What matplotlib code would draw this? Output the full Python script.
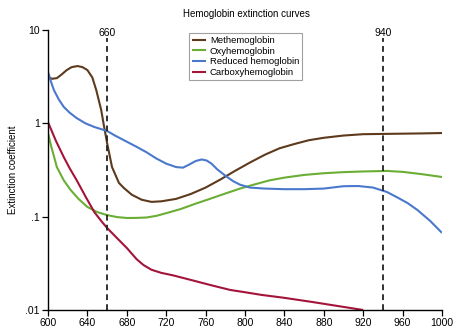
import numpy as np
import matplotlib
matplotlib.use("Agg")
import matplotlib.pyplot as plt

plt.rcParams['font.family'] = ['Liberation Sans', 'DejaVu Sans']

# values (wavelength nm, extinction coefficient)
met_x = [600, 604, 609, 614, 619, 624, 630, 635, 640, 645, 649, 654, 657, 660, 665, 672, 677, 685,
         695, 705, 715, 730, 745, 760, 775, 790, 805, 820, 835, 850, 865, 880, 900, 920, 940, 960, 980, 1000]
met_y = [3.13, 3.0, 3.05, 3.35, 3.72, 4.0, 4.11, 4.0, 3.72, 3.1, 2.27, 1.39, 0.914, 0.615, 0.34, 0.23,
         0.203, 0.172, 0.152, 0.144, 0.146, 0.155, 0.175, 0.205, 0.25, 0.31, 0.38, 0.46, 0.54, 0.6,
         0.66, 0.7, 0.74, 0.765, 0.77, 0.775, 0.78, 0.787]

oxy_x = [600, 603, 609, 616, 623, 631, 640, 650, 660, 670, 680, 690, 700, 710, 720, 735, 750, 765,
         780, 795, 810, 825, 840, 860, 880, 900, 920, 944, 960, 980, 1000]
oxy_y = [0.787, 0.58, 0.34, 0.245, 0.193, 0.155, 0.127, 0.112, 0.104, 0.099, 0.0968, 0.097, 0.098,
         0.102, 0.109, 0.121, 0.138, 0.156, 0.177, 0.2, 0.222, 0.245, 0.262, 0.28, 0.292, 0.3, 0.305,
         0.309, 0.302, 0.285, 0.266]

red_x = [600, 603, 606, 611, 616, 622, 629, 638, 647, 660, 668, 677, 690, 700, 710, 720, 730, 737,
         743, 750, 756, 761, 766, 772, 780, 788, 795, 805, 820, 840, 860, 880, 900, 915, 930, 944,
         955, 965, 975, 988, 1000]
red_y = [3.55, 2.8, 2.27, 1.8, 1.5, 1.3, 1.14, 1.0, 0.914, 0.828, 0.74, 0.66, 0.56, 0.49, 0.42, 0.37,
         0.34, 0.335, 0.36, 0.395, 0.41, 0.4, 0.37, 0.32, 0.275, 0.24, 0.22, 0.205, 0.2, 0.197, 0.197,
         0.2, 0.212, 0.213, 0.205, 0.184, 0.16, 0.14, 0.118, 0.09, 0.067]

carb_x = [600, 608, 616, 622, 629, 638, 647, 654, 660, 669, 680, 690, 697, 705, 715, 727, 745, 765,
          785, 800, 817, 840, 868, 895, 920]
carb_y = [1.03, 0.65, 0.435, 0.33, 0.247, 0.165, 0.112, 0.09, 0.0757, 0.0605, 0.0462, 0.035, 0.0303,
          0.027, 0.025, 0.0235, 0.021, 0.0185, 0.0164, 0.0155, 0.0145, 0.0135, 0.0122, 0.011, 0.01]

labels = ["Methemoglobin", "Oxyhemoglobin", "Reduced hemoglobin", "Carboxyhemoglobin"]
colors = ["#5e3a1c", "#6aae35", "#4a78cc", "#a3143a"]

marks = [660, 940]

fig = plt.figure(figsize=(4.59, 3.35), dpi=100)
ax = fig.add_axes([48/459, 1-310/335, 394/459, 280/335])

series = [(met_x, met_y), (oxy_x, oxy_y), (red_x, red_y), (carb_x, carb_y)]
for (x, y), lab, c in zip(series, labels, colors):
    ax.plot(x, y, color=c, lw=1.5, label=lab, solid_capstyle='butt', solid_joinstyle='round')

for m in marks:
    ax.plot([m, m], [0.01, 8.2], color='#222222', lw=1.3, ls=(0, (3.2, 2.3)))
    ax.text(m, 9.4, str(m), ha='center', va='center', fontsize=7.5)

ax.set_yscale('log')
ax.set_xlim(600, 1000)
ax.set_ylim(0.01, 10)
ax.set_xticks(np.arange(600, 1001, 40))
ax.set_yticks([0.01, 0.1, 1, 10])
ax.set_yticklabels(['.01', '.1', '1', '10'])
ax.minorticks_off()
ax.tick_params(axis='both', labelsize=7.5, length=4, width=0.9, pad=2)

for s in ['top', 'right']:
    ax.spines[s].set_visible(False)
for s in ['left', 'bottom']:
    ax.spines[s].set_linewidth(1.0)

ax.set_ylabel("Extinction coefficient", fontsize=7)
ax.yaxis.set_label_coords(-30/394, 0.5)
fig.text(246/459, 1-14/335, "Hemoglobin extinction curves", ha='center', va='center', fontsize=7)

leg = ax.legend(loc='upper left', bbox_to_anchor=(189/459, 1-33/335), bbox_transform=fig.transFigure,
                fontsize=6.8, frameon=True, fancybox=False, edgecolor='#888888', handlelength=1.5,
                handletextpad=0.4, labelspacing=0.18, borderpad=0.3, borderaxespad=0)
leg.get_frame().set_linewidth(0.8)

fig.savefig("out.png", dpi=100)
